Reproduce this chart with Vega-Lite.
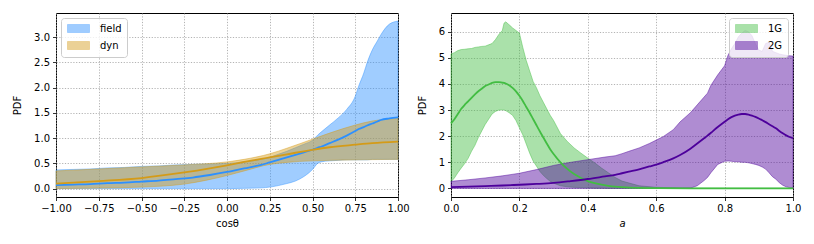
{
  "$schema": "https://vega.github.io/schema/vega-lite/v6.json",
  "background": "white",
  "padding": {"left": 12, "top": 12, "right": 5, "bottom": 5},
  "bounds": "flush",
  "spacing": 53,
  "resolve": {"scale": {"color": "independent", "stroke": "independent"}, "legend": {"color": "independent", "stroke": "independent"}},
  "config": {
    "font": "DejaVu Sans",
    "view": {"stroke": "black", "strokeWidth": 1},
    "axis": {
      "labelFont": "DejaVu Sans", "labelFontSize": 10, "labelColor": "black",
      "titleFont": "DejaVu Sans", "titleFontSize": 10, "titleFontWeight": "normal", "titleColor": "black",
      "domain": false, "tickColor": "black", "tickSize": 3.5, "tickWidth": 0.8,
      "labelPadding": 3, "labelFlush": false, "labelOverlap": false,
      "grid": true, "gridColor": "#a0a0a0", "gridDash": [1.2, 1.6], "gridWidth": 0.8
    },
    "axisX": {"titlePadding": 5},
    "axisY": {"titlePadding": 11},
    "legend": {
      "offset": 5, "title": null,
      "fillColor": "rgba(255,255,255,0.8)", "strokeColor": "#cccccc", "cornerRadius": 3, "padding": 5,
      "labelFont": "DejaVu Sans", "labelFontSize": 10, "labelColor": "black",
      "symbolType": "M-2.2,-0.8H2.2V0.8H-2.2Z", "symbolSize": 100, "symbolOpacity": 0.45,
      "symbolOffset": 7, "symbolStrokeWidth": 1, "labelOffset": 16, "rowPadding": 4
    }
  },
  "datasets": {
    "left": [
      {"series": "field", "x": -1.0, "lo": 0.0, "hi": 0.37, "med": 0.07},
      {"series": "field", "x": -0.9, "lo": 0.0, "hi": 0.38, "med": 0.08},
      {"series": "field", "x": -0.8, "lo": 0.0, "hi": 0.39, "med": 0.09},
      {"series": "field", "x": -0.7, "lo": 0.0, "hi": 0.41, "med": 0.11},
      {"series": "field", "x": -0.6, "lo": 0.0, "hi": 0.42, "med": 0.12},
      {"series": "field", "x": -0.5, "lo": 0.0, "hi": 0.44, "med": 0.14},
      {"series": "field", "x": -0.4, "lo": 0.0, "hi": 0.45, "med": 0.16},
      {"series": "field", "x": -0.3, "lo": 0.0, "hi": 0.47, "med": 0.19},
      {"series": "field", "x": -0.2, "lo": 0.0, "hi": 0.48, "med": 0.22},
      {"series": "field", "x": -0.1, "lo": 0.0, "hi": 0.49, "med": 0.27},
      {"series": "field", "x": 0.0, "lo": 0.0, "hi": 0.5, "med": 0.33},
      {"series": "field", "x": 0.1, "lo": 0.005, "hi": 0.53, "med": 0.4},
      {"series": "field", "x": 0.2, "lo": 0.015, "hi": 0.58, "med": 0.47},
      {"series": "field", "x": 0.25, "lo": 0.03, "hi": 0.62, "med": 0.52},
      {"series": "field", "x": 0.3, "lo": 0.06, "hi": 0.68, "med": 0.57},
      {"series": "field", "x": 0.35, "lo": 0.1, "hi": 0.74, "med": 0.62},
      {"series": "field", "x": 0.4, "lo": 0.15, "hi": 0.81, "med": 0.67},
      {"series": "field", "x": 0.45, "lo": 0.24, "hi": 0.88, "med": 0.72},
      {"series": "field", "x": 0.5, "lo": 0.38, "hi": 0.96, "med": 0.77},
      {"series": "field", "x": 0.53, "lo": 0.5, "hi": 1.06, "med": 0.81},
      {"series": "field", "x": 0.55, "lo": 0.53, "hi": 1.12, "med": 0.83},
      {"series": "field", "x": 0.6, "lo": 0.55, "hi": 1.26, "med": 0.9},
      {"series": "field", "x": 0.65, "lo": 0.56, "hi": 1.4, "med": 0.97},
      {"series": "field", "x": 0.7, "lo": 0.57, "hi": 1.57, "med": 1.05},
      {"series": "field", "x": 0.75, "lo": 0.57, "hi": 1.83, "med": 1.14},
      {"series": "field", "x": 0.77, "lo": 0.57, "hi": 2.03, "med": 1.18},
      {"series": "field", "x": 0.8, "lo": 0.57, "hi": 2.29, "med": 1.22},
      {"series": "field", "x": 0.82, "lo": 0.57, "hi": 2.5, "med": 1.25},
      {"series": "field", "x": 0.85, "lo": 0.58, "hi": 2.75, "med": 1.29},
      {"series": "field", "x": 0.88, "lo": 0.58, "hi": 2.93, "med": 1.33},
      {"series": "field", "x": 0.9, "lo": 0.58, "hi": 3.05, "med": 1.36},
      {"series": "field", "x": 0.95, "lo": 0.58, "hi": 3.26, "med": 1.39},
      {"series": "field", "x": 1.0, "lo": 0.58, "hi": 3.32, "med": 1.41},
      {"series": "dyn", "x": -1.0, "lo": 0.0, "hi": 0.35, "med": 0.1},
      {"series": "dyn", "x": -0.75, "lo": 0.01, "hi": 0.39, "med": 0.15},
      {"series": "dyn", "x": -0.5, "lo": 0.03, "hi": 0.43, "med": 0.21},
      {"series": "dyn", "x": -0.25, "lo": 0.09, "hi": 0.47, "med": 0.32},
      {"series": "dyn", "x": 0.0, "lo": 0.26, "hi": 0.53, "med": 0.46},
      {"series": "dyn", "x": 0.1, "lo": 0.35, "hi": 0.58, "med": 0.53},
      {"series": "dyn", "x": 0.25, "lo": 0.48, "hi": 0.69, "med": 0.62},
      {"series": "dyn", "x": 0.35, "lo": 0.52, "hi": 0.8, "med": 0.68},
      {"series": "dyn", "x": 0.5, "lo": 0.55, "hi": 0.98, "med": 0.77},
      {"series": "dyn", "x": 0.6, "lo": 0.56, "hi": 1.1, "med": 0.82},
      {"series": "dyn", "x": 0.75, "lo": 0.57, "hi": 1.26, "med": 0.87},
      {"series": "dyn", "x": 0.85, "lo": 0.575, "hi": 1.34, "med": 0.9},
      {"series": "dyn", "x": 1.0, "lo": 0.58, "hi": 1.39, "med": 0.93}
    ],
    "right": [
      {"series": "1G", "a": 0.0, "lo": 0.25, "hi": 5.15, "med": 2.49},
      {"series": "1G", "a": 0.01, "lo": 0.4, "hi": 5.2, "med": 2.65},
      {"series": "1G", "a": 0.02, "lo": 0.6, "hi": 5.28, "med": 2.85},
      {"series": "1G", "a": 0.03, "lo": 0.78, "hi": 5.32, "med": 3.05},
      {"series": "1G", "a": 0.04, "lo": 0.95, "hi": 5.33, "med": 3.2},
      {"series": "1G", "a": 0.05, "lo": 1.15, "hi": 5.35, "med": 3.33},
      {"series": "1G", "a": 0.06, "lo": 1.42, "hi": 5.36, "med": 3.47},
      {"series": "1G", "a": 0.07, "lo": 1.65, "hi": 5.4, "med": 3.6},
      {"series": "1G", "a": 0.08, "lo": 1.95, "hi": 5.42, "med": 3.72},
      {"series": "1G", "a": 0.09, "lo": 2.2, "hi": 5.44, "med": 3.82},
      {"series": "1G", "a": 0.1, "lo": 2.45, "hi": 5.45, "med": 3.92},
      {"series": "1G", "a": 0.11, "lo": 2.65, "hi": 5.5, "med": 3.98},
      {"series": "1G", "a": 0.12, "lo": 2.85, "hi": 5.55, "med": 4.04},
      {"series": "1G", "a": 0.13, "lo": 2.95, "hi": 5.7, "med": 4.07},
      {"series": "1G", "a": 0.14, "lo": 3.0, "hi": 5.9, "med": 4.07},
      {"series": "1G", "a": 0.15, "lo": 3.01, "hi": 6.05, "med": 4.05},
      {"series": "1G", "a": 0.155, "lo": 3.0, "hi": 6.33, "med": 4.04},
      {"series": "1G", "a": 0.16, "lo": 2.98, "hi": 6.38, "med": 4.02},
      {"series": "1G", "a": 0.17, "lo": 2.9, "hi": 6.27, "med": 3.95},
      {"series": "1G", "a": 0.18, "lo": 2.8, "hi": 6.15, "med": 3.85},
      {"series": "1G", "a": 0.19, "lo": 2.6, "hi": 6.05, "med": 3.72},
      {"series": "1G", "a": 0.2, "lo": 2.32, "hi": 5.95, "med": 3.55},
      {"series": "1G", "a": 0.21, "lo": 2.05, "hi": 5.4, "med": 3.35},
      {"series": "1G", "a": 0.22, "lo": 1.7, "hi": 4.9, "med": 3.12},
      {"series": "1G", "a": 0.23, "lo": 1.35, "hi": 4.5, "med": 2.9},
      {"series": "1G", "a": 0.24, "lo": 1.05, "hi": 4.1, "med": 2.66},
      {"series": "1G", "a": 0.25, "lo": 0.85, "hi": 3.85, "med": 2.42},
      {"series": "1G", "a": 0.26, "lo": 0.65, "hi": 3.55, "med": 2.18},
      {"series": "1G", "a": 0.27, "lo": 0.5, "hi": 3.3, "med": 1.95},
      {"series": "1G", "a": 0.28, "lo": 0.38, "hi": 3.05, "med": 1.72},
      {"series": "1G", "a": 0.29, "lo": 0.27, "hi": 2.8, "med": 1.5},
      {"series": "1G", "a": 0.3, "lo": 0.2, "hi": 2.6, "med": 1.32},
      {"series": "1G", "a": 0.32, "lo": 0.1, "hi": 2.1, "med": 1.0},
      {"series": "1G", "a": 0.34, "lo": 0.06, "hi": 1.8, "med": 0.75},
      {"series": "1G", "a": 0.36, "lo": 0.04, "hi": 1.55, "med": 0.55},
      {"series": "1G", "a": 0.38, "lo": 0.03, "hi": 1.35, "med": 0.4},
      {"series": "1G", "a": 0.4, "lo": 0.02, "hi": 1.16, "med": 0.28},
      {"series": "1G", "a": 0.42, "lo": 0.01, "hi": 0.98, "med": 0.2},
      {"series": "1G", "a": 0.44, "lo": 0.01, "hi": 0.78, "med": 0.14},
      {"series": "1G", "a": 0.46, "lo": 0.0, "hi": 0.6, "med": 0.1},
      {"series": "1G", "a": 0.48, "lo": 0.0, "hi": 0.42, "med": 0.07},
      {"series": "1G", "a": 0.5, "lo": 0.0, "hi": 0.28, "med": 0.05},
      {"series": "1G", "a": 0.55, "lo": 0.0, "hi": 0.1, "med": 0.02},
      {"series": "1G", "a": 0.6, "lo": 0.0, "hi": 0.04, "med": 0.01},
      {"series": "1G", "a": 0.7, "lo": 0.0, "hi": 0.01, "med": 0.0},
      {"series": "1G", "a": 0.8, "lo": 0.0, "hi": 0.005, "med": 0.0},
      {"series": "1G", "a": 1.0, "lo": 0.0, "hi": 0.0, "med": 0.0},
      {"series": "2G", "a": 0.0, "lo": 0.0, "hi": 0.27, "med": 0.05},
      {"series": "2G", "a": 0.05, "lo": 0.0, "hi": 0.33, "med": 0.07},
      {"series": "2G", "a": 0.1, "lo": 0.0, "hi": 0.4, "med": 0.09},
      {"series": "2G", "a": 0.15, "lo": 0.0, "hi": 0.48, "med": 0.11},
      {"series": "2G", "a": 0.2, "lo": 0.0, "hi": 0.58, "med": 0.14},
      {"series": "2G", "a": 0.25, "lo": 0.0, "hi": 0.72, "med": 0.17},
      {"series": "2G", "a": 0.3, "lo": 0.0, "hi": 0.88, "med": 0.21},
      {"series": "2G", "a": 0.35, "lo": 0.0, "hi": 1.0, "med": 0.28},
      {"series": "2G", "a": 0.4, "lo": 0.0, "hi": 1.1, "med": 0.36},
      {"series": "2G", "a": 0.45, "lo": 0.0, "hi": 1.2, "med": 0.46},
      {"series": "2G", "a": 0.48, "lo": 0.0, "hi": 1.25, "med": 0.52},
      {"series": "2G", "a": 0.5, "lo": 0.0, "hi": 1.33, "med": 0.58},
      {"series": "2G", "a": 0.52, "lo": 0.0, "hi": 1.42, "med": 0.64},
      {"series": "2G", "a": 0.55, "lo": 0.0, "hi": 1.55, "med": 0.73},
      {"series": "2G", "a": 0.58, "lo": 0.0, "hi": 1.72, "med": 0.84},
      {"series": "2G", "a": 0.6, "lo": 0.0, "hi": 1.85, "med": 0.91},
      {"series": "2G", "a": 0.62, "lo": 0.0, "hi": 1.98, "med": 1.0},
      {"series": "2G", "a": 0.65, "lo": 0.0, "hi": 2.25, "med": 1.15},
      {"series": "2G", "a": 0.67, "lo": 0.0, "hi": 2.55, "med": 1.28},
      {"series": "2G", "a": 0.7, "lo": 0.01, "hi": 2.9, "med": 1.52},
      {"series": "2G", "a": 0.72, "lo": 0.1, "hi": 3.2, "med": 1.72},
      {"series": "2G", "a": 0.74, "lo": 0.3, "hi": 3.5, "med": 1.92},
      {"series": "2G", "a": 0.75, "lo": 0.42, "hi": 3.65, "med": 2.02},
      {"series": "2G", "a": 0.76, "lo": 0.6, "hi": 3.95, "med": 2.13},
      {"series": "2G", "a": 0.78, "lo": 0.92, "hi": 4.35, "med": 2.35},
      {"series": "2G", "a": 0.8, "lo": 1.04, "hi": 4.7, "med": 2.55},
      {"series": "2G", "a": 0.81, "lo": 1.05, "hi": 5.1, "med": 2.65},
      {"series": "2G", "a": 0.82, "lo": 1.04, "hi": 5.35, "med": 2.73},
      {"series": "2G", "a": 0.83, "lo": 1.02, "hi": 5.55, "med": 2.79},
      {"series": "2G", "a": 0.84, "lo": 1.02, "hi": 5.8, "med": 2.83},
      {"series": "2G", "a": 0.85, "lo": 1.0, "hi": 5.95, "med": 2.85},
      {"series": "2G", "a": 0.86, "lo": 1.0, "hi": 6.05, "med": 2.85},
      {"series": "2G", "a": 0.87, "lo": 0.98, "hi": 6.0, "med": 2.83},
      {"series": "2G", "a": 0.88, "lo": 0.95, "hi": 5.85, "med": 2.79},
      {"series": "2G", "a": 0.89, "lo": 0.92, "hi": 5.55, "med": 2.74},
      {"series": "2G", "a": 0.9, "lo": 0.88, "hi": 5.3, "med": 2.68},
      {"series": "2G", "a": 0.91, "lo": 0.82, "hi": 5.25, "med": 2.61},
      {"series": "2G", "a": 0.92, "lo": 0.74, "hi": 5.55, "med": 2.54},
      {"series": "2G", "a": 0.93, "lo": 0.6, "hi": 5.6, "med": 2.46},
      {"series": "2G", "a": 0.94, "lo": 0.45, "hi": 5.25, "med": 2.38},
      {"series": "2G", "a": 0.95, "lo": 0.35, "hi": 5.2, "med": 2.3},
      {"series": "2G", "a": 0.96, "lo": 0.22, "hi": 5.15, "med": 2.2},
      {"series": "2G", "a": 0.97, "lo": 0.12, "hi": 5.12, "med": 2.11},
      {"series": "2G", "a": 0.98, "lo": 0.06, "hi": 5.1, "med": 2.03},
      {"series": "2G", "a": 0.99, "lo": 0.03, "hi": 5.08, "med": 1.97},
      {"series": "2G", "a": 1.0, "lo": 0.01, "hi": 5.07, "med": 1.92}
    ]
  },
  "hconcat": [
    {
      "width": 342,
      "height": 184,
      "data": {"name": "left"},
      "encoding": {
        "x": {"field": "x", "type": "quantitative", "title": "cosθ",
              "scale": {"domain": [-1, 1], "nice": false, "zero": false},
              "axis": {"values": [-1, -0.75, -0.5, -0.25, 0, 0.25, 0.5, 0.75, 1], "format": ".2f"}}
      },
      "layer": [
        {
          "mark": {"type": "area", "interpolate": "monotone", "fillOpacity": 0.45, "strokeOpacity": 0.45, "strokeWidth": 1},
          "encoding": {
            "y": {"field": "lo", "type": "quantitative", "title": "PDF",
                  "scale": {"domain": [-0.166, 3.48], "nice": false, "zero": false},
                  "axis": {"values": [0, 0.5, 1, 1.5, 2, 2.5, 3], "format": ".1f"}},
            "y2": {"field": "hi"},
            "color": {"field": "series", "type": "nominal",
                      "scale": {"domain": ["field", "dyn"], "range": ["#2c90ff", "#d49b18"]},
                      "legend": {"orient": "top-left"}},
            "stroke": {"field": "series", "type": "nominal",
                       "scale": {"domain": ["field", "dyn"], "range": ["#2c90ff", "#d49b18"]},
                       "legend": null}
          }
        },
        {
          "mark": {"type": "line", "interpolate": "monotone", "strokeWidth": 1.8},
          "encoding": {
            "y": {"field": "med", "type": "quantitative", "title": "PDF",
                  "axis": {"values": [0, 0.5, 1, 1.5, 2, 2.5, 3], "format": ".1f"}},
            "stroke": {"field": "series", "type": "nominal",
                       "scale": {"domain": ["field", "dyn"], "range": ["#2c90ff", "#d49b18"]},
                       "legend": null}
          }
        }
      ]
    },
    {
      "width": 342,
      "height": 184,
      "data": {"name": "right"},
      "encoding": {
        "x": {"field": "a", "type": "quantitative", "title": "a",
              "scale": {"domain": [0, 1], "nice": false, "zero": false},
              "axis": {"values": [0, 0.2, 0.4, 0.6, 0.8, 1], "format": ".1f", "titleFontStyle": "italic"}}
      },
      "layer": [
        {
          "mark": {"type": "area", "interpolate": "linear", "fillOpacity": 0.45, "strokeOpacity": 0.45, "strokeWidth": 1},
          "encoding": {
            "y": {"field": "lo", "type": "quantitative", "title": "PDF",
                  "scale": {"domain": [-0.33, 6.72], "nice": false, "zero": false},
                  "axis": {"values": [0, 1, 2, 3, 4, 5, 6], "format": "d"}},
            "y2": {"field": "hi"},
            "color": {"field": "series", "type": "nominal",
                      "scale": {"domain": ["1G", "2G"], "range": ["#42bd42", "#4d009b"]},
                      "legend": {"orient": "top-right"}},
            "stroke": {"field": "series", "type": "nominal",
                       "scale": {"domain": ["1G", "2G"], "range": ["#42bd42", "#4d009b"]},
                       "legend": null}
          }
        },
        {
          "mark": {"type": "line", "interpolate": "monotone", "strokeWidth": 1.8},
          "encoding": {
            "y": {"field": "med", "type": "quantitative", "title": "PDF",
                  "axis": {"values": [0, 1, 2, 3, 4, 5, 6], "format": "d"}},
            "stroke": {"field": "series", "type": "nominal",
                       "scale": {"domain": ["1G", "2G"], "range": ["#42bd42", "#4d009b"]},
                       "legend": null}
          }
        }
      ]
    }
  ]
}
